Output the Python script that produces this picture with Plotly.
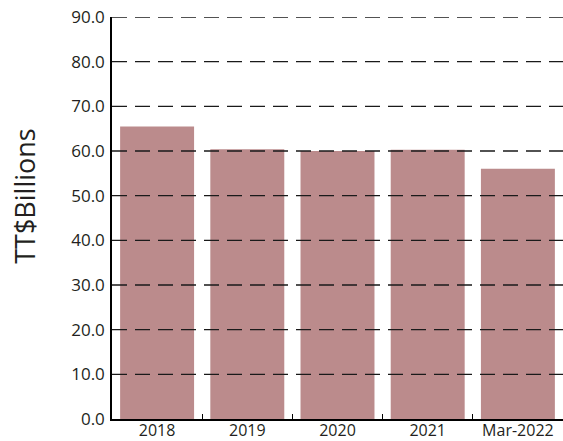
import plotly.graph_objects as go

# Public debt figures, TT$ billions
periods = ["2018", "2019", "2020", "2021", "Mar-2022"]
values = [65.5, 60.4, 60.0, 60.3, 56.0]

# Y axis ticks
y_ticks = [0, 10, 20, 30, 40, 50, 60, 70, 80, 90]
y_tick_labels = [f"{v:.1f}" for v in y_ticks]

FONT = "Open Sans, DejaVu Sans, sans-serif"
TEXT = "#231F20"

fig = go.Figure()
fig.add_trace(go.Bar(
    x=periods,
    y=values,
    marker=dict(color="#BB8B8C", line=dict(width=0)),
    hoverinfo="x+y",
))

# dashed gridlines drawn on top of the bars
for v in y_ticks[1:]:
    fig.add_shape(
        type="line", xref="paper", yref="y",
        x0=0, x1=1, y0=v, y1=v,
        line=dict(color="#1a1a1a", width=1.3, dash="15px,8px"),
        layer="above",
    )

fig.add_annotation(
    text="TT$Billions", xref="paper", yref="paper",
    x=-0.193, y=0.555, xanchor="center", yanchor="middle",
    textangle=-90, showarrow=False,
    font=dict(family=FONT, size=27, color=TEXT),
)

fig.update_layout(
    width=563, height=441,
    margin=dict(l=112, r=0, t=17, b=22),
    paper_bgcolor="white", plot_bgcolor="white",
    bargap=0.18,
    showlegend=False,
    font=dict(family=FONT, size=18, color=TEXT),
)
fig.update_xaxes(
    range=[-0.5, 4.5],
    automargin=False,
    showgrid=False,
    showline=True, linecolor="black", linewidth=1.5,
    ticks="inside", tickson="boundaries", ticklen=5, tickcolor="black",
    ticklabelstandoff=-4,
    tickfont=dict(family=FONT, size=16, color=TEXT),
)
fig.update_yaxes(
    range=[0, 90],
    automargin=False,
    tickvals=y_ticks, ticktext=y_tick_labels,
    showgrid=False, zeroline=False,
    showline=True, linecolor="black", linewidth=1.5,
    ticks="", ticklabelstandoff=2,
    tickfont=dict(family=FONT, size=17, color=TEXT),
)

fig.write_html("out.html")
